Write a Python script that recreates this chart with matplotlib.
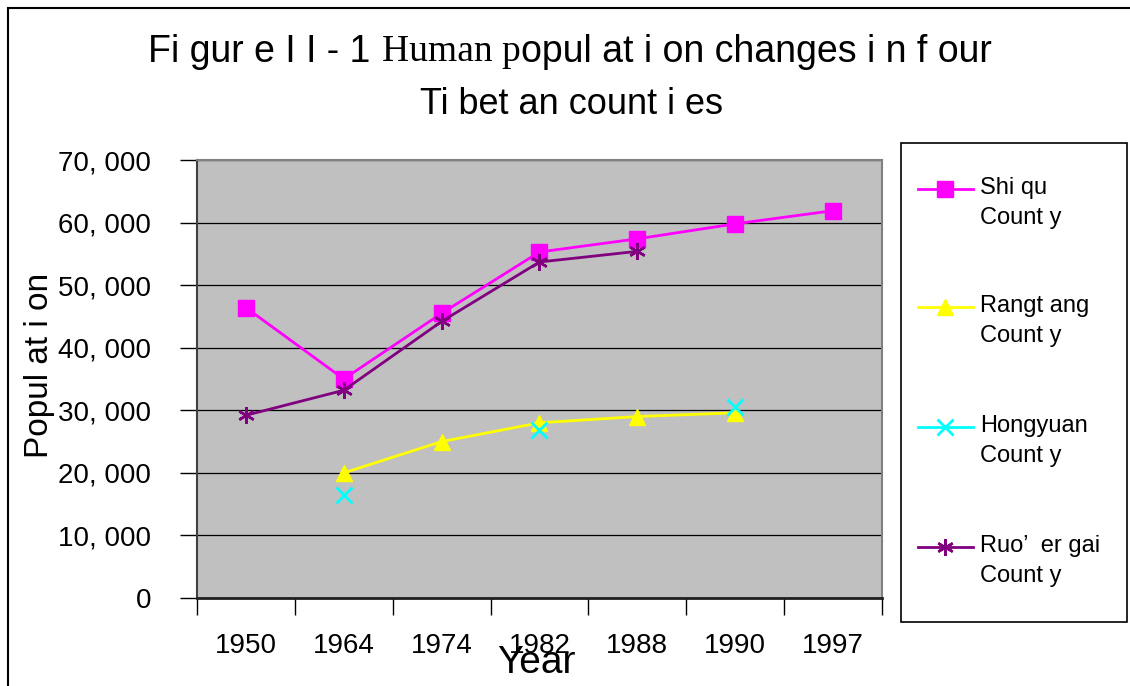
import numpy as np
import matplotlib.pyplot as plt
from matplotlib.lines import Line2D
from matplotlib.patches import Rectangle

# Data ---------------------------------------------------------------------------------------
years = ['1950', '1964', '1974', '1982', '1988', '1990', '1997']
nan = np.nan
shiqu     = [46400, 35000, 45500, 55300, 57400, 59800, 61900]
rangtang  = [nan, 20000, 25000, 28000, 29000, 29600, nan]
hongyuan  = [nan, 16400, nan, 26900, nan, 30600, nan]
ruoergai  = [29200, 33200, 44200, 53700, 55400, nan, nan]
yticks = [0, 10000, 20000, 30000, 40000, 50000, 60000, 70000]
ylabels = ['0', '10, 000', '20, 000', '30, 000', '40, 000', '50, 000', '60, 000', '70, 000']

series = [
    ('Shi qu\nCount y', shiqu, '#ff00ff', 's', 12, 1),
    ('Rangt ang\nCount y', rangtang, '#ffff00', '^', 12, 1),
    ('Hongyuan\nCount y', hongyuan, '#00ffff', 'x', 11, 2),
    ('Ruo\u2019  er gai\nCount y', ruoergai, '#800080', (6, 2, 0), 12, 1.8),
]

NARROW = ['Liberation Sans Narrow', 'Liberation Sans', 'DejaVu Sans']
ARIAL = ['Liberation Sans', 'DejaVu Sans']
SERIF = ['Liberation Serif', 'DejaVu Serif']

W, H = 1130, 686
fig = plt.figure(figsize=(W / 100, H / 100), dpi=100)

def fx(px):
    return px / W

def fy(py):
    return 1 - py / H

# Plot area --------------------------------------------------------------------------------
ax = fig.add_axes([fx(197), fy(598), fx(882) - fx(197), fy(160) - fy(598)])
ax.set_facecolor('#c0c0c0')
x = np.arange(len(years))
for label, vals, col, mk, ms, mew in series:
    ax.plot(x, vals, color=col, lw=2, marker=mk, markersize=ms,
            markeredgewidth=mew, markeredgecolor=col, markerfacecolor=col,
            zorder=3)

ax.set_xlim(-0.5, len(years) - 0.5)
ax.set_ylim(0, 70000)
ax.set_yticks(yticks)
ax.set_yticklabels(ylabels, family=ARIAL, fontsize=20)
ax.tick_params(axis='y', length=12, width=1, direction='out', pad=21, color='black')
ax.set_xticks(x)
ax.set_xticklabels(years, family=NARROW, fontsize=20)
ax.set_xticks(np.arange(-0.5, len(years)), minor=True)
ax.tick_params(axis='x', which='major', length=0, pad=25)
ax.tick_params(axis='x', which='minor', length=12, width=1, direction='out', color='black')
ax.grid(axis='y', color='black', lw=0.9)
ax.set_axisbelow(True)
for s in ['top', 'right']:
    ax.spines[s].set_color('#808080')
    ax.spines[s].set_linewidth(1.5)
ax.spines['left'].set_color('#404040')
ax.spines['bottom'].set_color('#202020')
ax.spines['left'].set_linewidth(1.5)
ax.spines['bottom'].set_linewidth(2)

fig.text(fx(40), fy(365), 'Popul at i on', rotation=90, ha='center', va='center',
         family=NARROW, fontsize=24)
fig.text(fx(536), fy(663), 'Year', ha='center', va='center', family=NARROW, fontsize=28)

# Title (mixed fonts as in the original) -----------------------------------------------------
renderer = fig.canvas.get_renderer()
parts = [('Fi gur e I I - 1', NARROW, 12), ('Human p', SERIF, 0), ('opul at i on changes i n f our', NARROW, 0)]
texts = []
for s, fam, gap in parts:
    t = fig.text(0, fy(52), s, family=fam, fontsize=27, va='center', ha='left')
    texts.append((t, gap))
widths = [t.get_window_extent(renderer).width for t, g in texts]
total = sum(widths) + sum(g for t, g in texts)
cur = 570 - total / 2
for (t, gap), w in zip(texts, widths):
    t.set_x(fx(cur))
    cur += w + gap
fig.text(fx(572), fy(104), 'Ti bet an count i es', family=NARROW, fontsize=26,
         ha='center', va='center')

# Legend ---------------------------------------------------------------------------------
fig.patches.append(Rectangle((fx(901), fy(622)), fx(1127) - fx(901), fy(143) - fy(622),
                             transform=fig.transFigure, fill=False, edgecolor='black', lw=1.2))
ys = [189, 307, 427, 547]
for (label, vals, col, mk, ms, mew), yy in zip(series, ys):
    fig.lines.append(Line2D([fx(918), fx(973)], [fy(yy), fy(yy)], transform=fig.transFigure,
                            color=col, lw=2))
    fig.lines.append(Line2D([fx(945)], [fy(yy)], transform=fig.transFigure, color=col,
                            marker=mk, markersize=ms, markeredgewidth=mew,
                            markeredgecolor=col, markerfacecolor=col))
    fig.text(fx(980), fy(yy - 12), label, family=NARROW, fontsize=17, ha='left', va='top',
             linespacing=1.45)

# Outer border
fig.patches.append(Rectangle((fx(7.5), fy(H + 5)), fx(W + 10), fy(7.5) - fy(H + 5),
                             transform=fig.transFigure, fill=False, edgecolor='black', lw=1.5))

fig.savefig('out.png', dpi=100, facecolor='white')
